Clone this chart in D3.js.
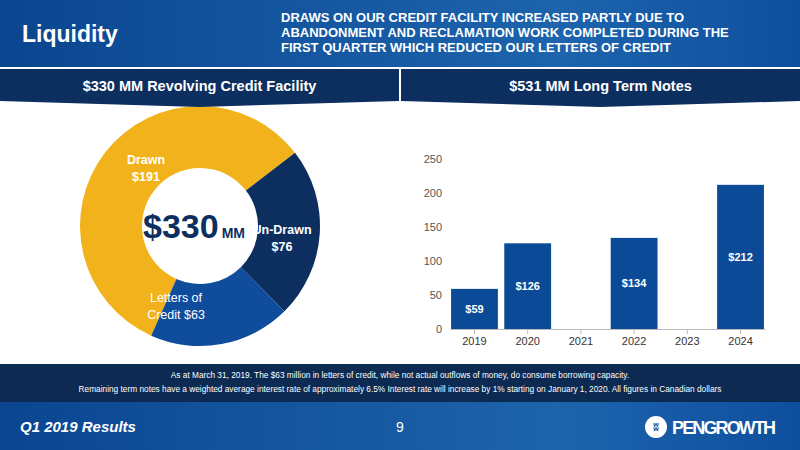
<!DOCTYPE html>
<html><head><meta charset="utf-8">
<script src="https://cdn.jsdelivr.net/npm/d3@7"></script>
<style>body{margin:0;background:#fff}svg{display:block;font-family:"Liberation Sans",Arial,sans-serif}</style>
</head><body><div id="app"></div>
<script>
const slices = ['Drawn', 'Un-Drawn', 'Letters of Credit']
const sliceValues = [191, 76, 63]
const years = ['2019', '2020', '2021', '2022', '2023', '2024']
const notes = [59, 126, 0, 134, 0, 212]
const yTicks = [0, 50, 100, 150, 200, 250]

const W = 800, H = 450
const navy = '#0d2f60', blue = '#0f4c9c', yellow = '#f2b21b'
const svg = d3.select('#app').append('svg').attr('width', W).attr('height', H)
const defs = svg.append('defs')
const g1 = defs.append('linearGradient').attr('id', 'hdr').attr('x2', 1)
g1.append('stop').attr('offset', 0).attr('stop-color', '#0b4590')
g1.append('stop').attr('offset', 0.7).attr('stop-color', '#1d64ad')
g1.append('stop').attr('offset', 1).attr('stop-color', '#0e4f9d')

// donut first so the section bar sits over it
const cx = 200, cy = 226, R = 120, r0 = 58
const pie = d3.pie().sort(null).startAngle(-156 * Math.PI / 180).endAngle(204 * Math.PI / 180)
const arc = d3.arc().innerRadius(r0).outerRadius(R)
const dg = svg.append('g').attr('transform', `translate(${cx},${cy})`)
const colors = [yellow, navy, blue]
dg.selectAll('path').data(pie(sliceValues)).join('path').attr('d', arc).attr('fill', (d, i) => colors[i])
const labs = [
  {l: ['Drawn', '$' + sliceValues[0]], x: -54, y: -62, b: true},
  {l: ['Un-Drawn', '$' + sliceValues[1]], x: 82, y: 8, b: true},
  {l: ['Letters of', 'Credit $' + sliceValues[2]], x: -24, y: 76, b: false}]
labs.forEach(o => o.l.forEach((t, j) => dg.append('text').attr('x', o.x).attr('y', o.y + j * 17)
  .attr('text-anchor', 'middle').attr('fill', '#fff').attr('font-size', 12.5)
  .attr('font-weight', o.b ? 'bold' : 'normal').text(t)))
const ct = dg.append('text').attr('x', -6).attr('y', 12).attr('text-anchor', 'middle')
  .attr('fill', navy).attr('font-weight', 'bold')
ct.append('tspan').attr('font-size', 34).text('$330')
ct.append('tspan').attr('font-size', 14).attr('dx', 3).text('MM')

// header
svg.append('rect').attr('width', W).attr('height', 67).attr('fill', 'url(#hdr)')
svg.append('text').attr('x', 22).attr('y', 42).attr('fill', '#fff')
  .attr('font-size', 23).attr('font-weight', 'bold').text('Liquidity')
const sub = ['DRAWS ON OUR CREDIT FACILITY INCREASED PARTLY DUE TO',
  'ABANDONMENT AND RECLAMATION WORK COMPLETED DURING THE',
  'FIRST QUARTER WHICH REDUCED OUR LETTERS OF CREDIT']
svg.selectAll('.sub').data(sub).join('text').attr('x', 281).attr('y', (d, i) => 22 + i * 15)
  .attr('fill', '#fff').attr('font-size', 13).attr('font-weight', 'bold').text(d => d)

// section bars with chevrons
const sections = [{x: 0, t: '$330 MM Revolving Credit Facility'}, {x: 401, t: '$531 MM Long Term Notes'}]
sections.forEach(s => {
  const w = 399, c = s.x + w / 2
  svg.append('path').attr('fill', navy)
    .attr('d', `M${s.x},69H${s.x + w}V101L${c},107L${s.x},101Z`)
  svg.append('text').attr('x', c).attr('y', 91).attr('text-anchor', 'middle')
    .attr('fill', '#fff').attr('font-size', 14.5).attr('font-weight', 'bold').text(s.t)
})

// bar chart
const x = d3.scaleBand().domain(years).range([450, 765]).paddingInner(0.12).paddingOuter(0.02)
const y = d3.scaleLinear().domain([0, 250]).range([329, 159])
const bars = years.map((d, i) => ({year: d, v: notes[i]})).filter(d => d.v > 0)
svg.selectAll('.bar').data(bars).join('rect')
  .attr('x', d => x(d.year)).attr('width', x.bandwidth())
  .attr('y', d => y(d.v)).attr('height', d => y(0) - y(d.v)).attr('fill', '#0b4a96')
const gx = svg.append('g').attr('transform', 'translate(0,329)')
  .call(d3.axisBottom(x).tickSize(5).tickSizeOuter(0))
gx.select('.domain').attr('stroke', '#bbb')
gx.selectAll('line').attr('stroke', '#bbb')
gx.selectAll('text').attr('fill', '#333').attr('font-size', 11)
const gy = svg.append('g').attr('transform', 'translate(442,0)')
  .call(d3.axisLeft(y).tickValues(yTicks).tickSize(0).tickPadding(0))
gy.select('.domain').remove()
gy.selectAll('text').attr('fill', '#555').attr('font-size', 11)
svg.selectAll('.bl').data(bars).join('text')
  .attr('x', d => x(d.year) + x.bandwidth() / 2)
  .attr('y', d => (y(d.v) + y(0)) / 2 + 4)
  .attr('text-anchor', 'middle').attr('fill', '#fff').attr('font-size', 11)
  .attr('font-weight', 'bold').text(d => '$' + d.v)

// footnote band
svg.append('rect').attr('y', 364).attr('width', W).attr('height', 38).attr('fill', '#0c2a52')
const fn = ['As at March 31, 2019. The $63 million in letters of credit, while not actual outflows of money, do consume borrowing capacity.',
  'Remaining term notes have a weighted average interest rate of approximately 6.5% Interest rate will increase by 1% starting on January 1, 2020. All figures in Canadian dollars']
svg.selectAll('.fn').data(fn).join('text').attr('x', 400).attr('y', (d, i) => 378 + i * 14)
  .attr('text-anchor', 'middle').attr('fill', '#fff').attr('font-size', 8.3).text(d => d)

// bottom bar
svg.append('rect').attr('y', 402).attr('width', W).attr('height', 48).attr('fill', 'url(#hdr)')
svg.append('text').attr('x', 20).attr('y', 432).attr('fill', '#fff').attr('font-size', 15)
  .attr('font-weight', 'bold').attr('font-style', 'italic').text('Q1 2019 Results')
svg.append('text').attr('x', 400).attr('y', 432).attr('text-anchor', 'middle').attr('fill', '#fff')
  .attr('font-size', 14).text('9')
svg.append('circle').attr('cx', 656).attr('cy', 427).attr('r', 11).attr('fill', '#fff')
svg.append('text').attr('x', 656).attr('y', 431).attr('text-anchor', 'middle').attr('fill', '#0e4f9d')
  .attr('font-size', 11).attr('font-weight', 'bold').text('ʬ')
svg.append('text').attr('x', 672).attr('y', 434).attr('fill', '#fff').attr('font-size', 18)
  .attr('font-weight', 'bold').attr('textLength', 104).text('PENGROWTH')
</script></body></html>
